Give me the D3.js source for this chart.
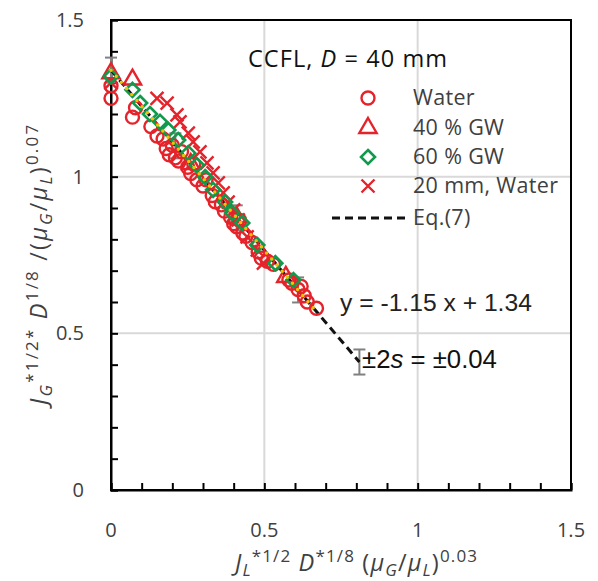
<!DOCTYPE html>
<html><head><meta charset="utf-8">
<script src="https://cdn.jsdelivr.net/npm/d3@7"></script>
<style>body{margin:0;background:#fff}svg{display:block}</style>
</head><body>
<script>
const xTicks = [0, 0.5, 1, 1.5];
const yTicks = [0, 0.5, 1, 1.5];
const minorTicks = d3.range(0, 1.5001, 0.1);
const waterX = [0.00,0.00,0.07,0.08,0.13,0.15,0.17,0.18,0.19,0.20,0.21,0.22,0.23,0.25,0.26,0.27,0.28,0.30,0.31,0.33,0.34,0.36,0.37,0.39,0.40,0.41,0.42,0.43,0.44,0.46,0.48,0.49,0.51,0.53,0.58,0.59,0.61,0.62,0.63,0.64,0.67];
const waterY = [1.25,1.29,1.19,1.22,1.16,1.13,1.12,1.09,1.07,1.10,1.06,1.05,1.08,1.03,1.01,1.04,0.99,0.97,0.99,0.94,0.92,0.91,0.89,0.87,0.85,0.84,0.86,0.82,0.81,0.79,0.76,0.74,0.73,0.72,0.67,0.66,0.64,0.65,0.62,0.60,0.58];
const gw40X = [0.00,0.07,0.26,0.41,0.57];
const gw40Y = [1.33,1.31,1.04,0.87,0.68];
const gw60X = [0.00,0.07,0.095,0.127,0.16,0.187,0.219,0.252,0.28,0.307,0.333,0.372,0.395,0.428,0.477,0.536,0.595];
const gw60Y = [1.32,1.277,1.235,1.20,1.175,1.149,1.117,1.075,1.037,0.999,0.958,0.919,0.884,0.852,0.782,0.724,0.670];
const mm20X = [0.00,0.15,0.183,0.215,0.225,0.252,0.268,0.29,0.313,0.333,0.35,0.366,0.382,0.40,0.415,0.444,0.477,0.497];
const mm20Y = [1.30,1.25,1.235,1.197,1.175,1.139,1.111,1.079,1.044,1.012,0.98,0.948,0.919,0.894,0.862,0.808,0.766,0.724];
const eqSlope = -1.15, eqIntercept = 1.34;
const eqRange = [0, 0.81];
const errX = [0.0, 0.21, 0.41, 0.61, 0.81];
const errHalf = 0.04;
const legendLabels = ["Water", "40 % GW", "60 % GW", "20 mm, Water", "Eq.(7)"];

const W = 598, H = 581;
const m = {left:111, top:20, right:571, bottom:490};
const RED = "#e5232b", GREEN = "#109a4c", GRID = "#d9d9d9", TXT = "#404040";
const x = d3.scaleLinear().domain([0,1.5]).range([m.left, m.right]);
const y = d3.scaleLinear().domain([0,1.5]).range([m.bottom, m.top]);
const svg = d3.select("body").append("svg").attr("width", W).attr("height", H);
const font = "Open Sans, Lato, sans-serif";
const arial = "Liberation Sans, Arial, sans-serif";

function spreadTo(sel, target){
  const w = sel.node().getComputedTextLength();
  const n = sel.text().length;
  if (n > 1) sel.attr("letter-spacing", ((target - w) / (n - 1)).toFixed(2));
}
function scaleTo(sel, target){
  const w = sel.node().getComputedTextLength();
  const fs = +sel.attr("font-size");
  sel.attr("font-size", (fs * target / w).toFixed(2));
}

// grid
svg.append("g").selectAll("line").data([0.5,1]).join("line")
  .attr("x1", d=>x(d)).attr("x2", d=>x(d)).attr("y1", m.top).attr("y2", m.bottom)
  .attr("stroke", GRID).attr("stroke-width", 2);
svg.append("g").selectAll("line").data([0.5,1]).join("line")
  .attr("y1", d=>y(d)).attr("y2", d=>y(d)).attr("x1", m.left).attr("x2", m.right)
  .attr("stroke", GRID).attr("stroke-width", 2);

// frame
svg.append("rect").attr("x", m.left).attr("y", m.top).attr("width", m.right-m.left).attr("height", m.bottom-m.top)
  .attr("fill","none").attr("stroke","#000").attr("stroke-width",2);

// axes with inward ticks
const xAxis = svg.append("g").attr("transform", `translate(0,${m.bottom})`)
  .call(d3.axisBottom(x).tickValues(minorTicks).tickSize(-7).tickFormat(""));
const yAxis = svg.append("g").attr("transform", `translate(${m.left},0)`)
  .call(d3.axisLeft(y).tickValues(minorTicks).tickSize(-7).tickFormat(""));
[xAxis, yAxis].forEach(g => { g.select(".domain").attr("stroke","#000").attr("stroke-width",2);
  g.selectAll(".tick line").attr("stroke","#000").attr("stroke-width",2); });

// tick labels
svg.append("g").selectAll("text").data(xTicks).join("text")
  .attr("x", d=>x(d)).attr("y", 537).attr("text-anchor","middle")
  .attr("font-family", font).attr("font-size", 20).attr("fill", TXT)
  .text(d => d3.format("")(d));
svg.append("g").selectAll("text").data(yTicks).join("text")
  .attr("x", 84).attr("y", d=>y(d)+7).attr("text-anchor","end")
  .attr("font-family", font).attr("font-size", 20).attr("fill", TXT)
  .text(d => d3.format("")(d));

// error bars
const eqF = v => eqSlope*v + eqIntercept;
const eb = svg.append("g").attr("stroke","#808080").attr("stroke-width",2);
errX.forEach(v => {
  const cx = x(v), y1 = y(eqF(v)+errHalf), y2 = y(eqF(v)-errHalf);
  eb.append("line").attr("x1",cx).attr("x2",cx).attr("y1",y1).attr("y2",y2);
  eb.append("line").attr("x1",cx-6).attr("x2",cx+6).attr("y1",y1).attr("y2",y1);
  eb.append("line").attr("x1",cx-6).attr("x2",cx+6).attr("y1",y2).attr("y2",y2);
});

// Eq line (dashed)
svg.append("line").attr("x1", x(eqRange[0])).attr("y1", y(eqF(eqRange[0])))
  .attr("x2", x(eqRange[1])).attr("y2", y(eqF(eqRange[1])))
  .attr("stroke","#111").attr("stroke-width",3).attr("stroke-dasharray","8,5");

// markers
const pts = (X,Y) => X.map((v,i)=>({x:v,y:Y[i]}));
svg.append("g").selectAll("circle").data(pts(waterX,waterY)).join("circle")
  .attr("cx",d=>x(d.x)).attr("cy",d=>y(d.y)).attr("r",6.5)
  .attr("fill","none").attr("stroke",RED).attr("stroke-width",2.4);
const tri = d3.symbol().type(d3.symbolTriangle).size(130);
svg.append("g").selectAll("path").data(pts(gw40X,gw40Y)).join("path")
  .attr("d", tri).attr("transform", d=>`translate(${x(d.x)},${y(d.y)})`)
  .attr("fill","none").attr("stroke",RED).attr("stroke-width",2.4);
const crossPath = "M-6.5,-6.5L6.5,6.5M-6.5,6.5L6.5,-6.5";
svg.append("g").selectAll("path").data(pts(mm20X,mm20Y)).join("path")
  .attr("d", crossPath).attr("transform", d=>`translate(${x(d.x)},${y(d.y)})`)
  .attr("fill","none").attr("stroke",RED).attr("stroke-width",2.4);
const diamondPath = "M0,-7L7,0L0,7L-7,0Z";
svg.append("g").selectAll("path").data(pts(gw60X,gw60Y)).join("path")
  .attr("d", diamondPath).attr("transform", d=>`translate(${x(d.x)},${y(d.y)})`)
  .attr("fill","none").attr("stroke",GREEN).attr("stroke-width",2.6);

// yellow dotted line along data
svg.append("line").attr("x1", x(0)).attr("y1", y(eqF(0)))
  .attr("x2", x(0.66)).attr("y2", y(eqF(0.66)))
  .attr("stroke","#f2c200").attr("stroke-width",3.5).attr("stroke-linecap","round")
  .attr("stroke-dasharray","0,8");

// title
const t = svg.append("text").attr("x",248).attr("y",67).attr("font-family",font).attr("font-size",23.5).attr("fill","#111");
t.append("tspan").text("CCFL, ");
t.append("tspan").attr("font-style","italic").text("D");
t.append("tspan").text(" = 40 mm");
spreadTo(t, 199);

// legend
const lx = 368, ly = [98,128,157,186,218];
svg.append("circle").attr("cx",lx).attr("cy",ly[0]).attr("r",6.5).attr("fill","none").attr("stroke",RED).attr("stroke-width",2.4);
svg.append("path").attr("d",tri).attr("transform",`translate(${lx},${ly[1]})`).attr("fill","none").attr("stroke",RED).attr("stroke-width",2.4);
svg.append("path").attr("d",diamondPath).attr("transform",`translate(${lx},${ly[2]})`).attr("fill","none").attr("stroke",GREEN).attr("stroke-width",2.6);
svg.append("path").attr("d",crossPath).attr("transform",`translate(${lx},${ly[3]})`).attr("fill","none").attr("stroke",RED).attr("stroke-width",2.4);
svg.append("line").attr("x1",332).attr("x2",406).attr("y1",ly[4]).attr("y2",ly[4]).attr("stroke","#111").attr("stroke-width",3).attr("stroke-dasharray","8,5");
const legTexts = svg.append("g").selectAll("text").data(legendLabels).join("text")
  .attr("x",413).attr("y",(d,i)=>ly[i]+7).attr("font-family",font).attr("font-size",21.5).attr("fill",TXT).text(d=>d);
spreadTo(legTexts.filter((d,i)=>i===3), 145);
legTexts.filter((d,i)=>i!==3).attr("letter-spacing", legTexts.filter((d,i)=>i===3).attr("letter-spacing"));

// annotations
const a1 = svg.append("text").attr("x",340).attr("y",311).attr("font-family",arial).attr("font-size",22).attr("fill","#222").text("y = -1.15 x + 1.34");
scaleTo(a1, 192);
const a2 = svg.append("text").attr("x",362).attr("y",368).attr("font-family",arial).attr("font-size",22).attr("fill","#111");
a2.append("tspan").text("±2");
a2.append("tspan").attr("font-style","italic").text("s");
a2.append("tspan").text(" = ±0.04");
scaleTo(a2, 135);

// axis titles
function addParts(sel, parts){
  parts.forEach(p => {
    const ts = sel.append("tspan").text(p.t);
    if (p.i) ts.attr("font-style","italic");
    if (p.s) ts.attr("font-size", 17);
    if (p.dy) ts.attr("dy", p.dy);
  });
}
const xt = svg.append("text").attr("x",235).attr("y",571).attr("font-family",font).attr("font-size",23.5).attr("fill",TXT);
addParts(xt, [
  {t:"J",i:1},{t:"L",i:1,s:1,dy:5},{t:"*1/2",s:1,dy:-14},{t:" D",i:1,dy:9},{t:"*1/8",s:1,dy:-9},
  {t:" (",dy:9},{t:"μ",i:1},{t:"G",i:1,s:1,dy:5},{t:"/",dy:-5},{t:"μ",i:1},{t:"L",i:1,s:1,dy:5},{t:")",dy:-5},{t:"0.03",s:1,dy:-9}
]);
spreadTo(xt, 242);
const yt = svg.append("text").attr("transform","translate(47,405) rotate(-90)").attr("font-family",font).attr("font-size",23.5).attr("fill",TXT);
addParts(yt, [
  {t:"J",i:1},{t:"G",i:1,s:1,dy:5},{t:"*1/2*",s:1,dy:-14},{t:" D",i:1,dy:9},{t:"1/8",s:1,dy:-9},
  {t:" /(",dy:9},{t:"μ",i:1},{t:"G",i:1,s:1,dy:5},{t:"/",dy:-5},{t:"μ",i:1},{t:"L",i:1,s:1,dy:5},{t:")",dy:-5},{t:"0.07",s:1,dy:-9}
]);
spreadTo(yt, 280);
</script>
</body></html>
